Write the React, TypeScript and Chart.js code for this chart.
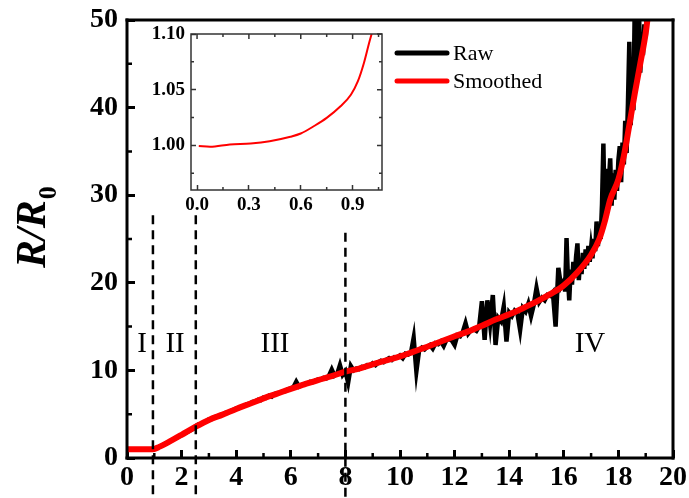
import React, { useEffect, useRef } from "react";
import { Chart, registerables } from "chart.js";

Chart.register(...registerables);

// ---------- data ----------
const smoothX = [0, 0.5, 0.95, 1.2, 1.6, 2.0, 2.5, 3.0, 3.5, 4.0, 4.5, 5.0, 5.5, 6.0, 6.5, 7.0, 7.5, 8.0, 8.5, 9.0, 9.5, 10.0, 10.5, 11.0, 11.5, 12.0, 12.5, 13.0, 13.5, 14.0, 14.5, 15.0, 15.5, 16.0, 16.5, 17.0, 17.3, 17.5, 17.7, 18.0, 18.2, 18.4, 18.6, 18.8, 19.0, 19.1];
const smoothY = [1.0, 1.0, 1.0, 1.3, 1.95, 2.65, 3.55, 4.35, 4.95, 5.6, 6.2, 6.8, 7.35, 7.9, 8.4, 8.9, 9.35, 9.85, 10.2, 10.7, 11.15, 11.6, 12.15, 12.7, 13.3, 13.9, 14.45, 15.1, 15.8, 16.4, 17.1, 17.85, 18.7, 19.7, 21.2, 23.2, 25.0, 27.0, 29.5, 31.8, 34.5, 38.0, 41.6, 45.0, 48.5, 51];

const rawHeadX = [0, 0.5, 0.95, 1.3, 1.7, 2.1, 2.4];
const rawHeadY = [1.0, 1.0, 1.0, 1.45, 2.1, 2.8, 3.3];

// raw, sampled every 0.1 from x = 2.5 to 15.9
const rawMidStartX = 2.5;
const rawMidStepX = 0.1;
const rawMidY = [
  3.6, 3.8, 3.85, 4.05, 4.2,
  4.4, 4.45, 4.65, 4.7, 4.9, 4.95, 5.15, 5.2, 5.35, 5.5,
  5.65, 5.7, 5.9, 5.95, 6.15, 6.2, 6.4, 6.45, 6.65, 6.6,
  6.9, 6.85, 7.1, 7.0, 7.3, 7.4, 7.45, 7.6, 7.65, 7.85,
  7.95, 8.1, 8.7, 8.15, 8.3, 8.45, 8.5, 8.7, 8.65, 8.85,
  8.95, 8.95, 9.15, 9.1, 9.4, 10.1, 9.4, 9.6, 10.6, 9.5,
  9.9, 8.6, 10.5, 10.0, 10.2, 10.15, 10.4, 10.35, 10.6, 10.55,
  10.8, 10.6, 10.9, 11.1, 10.95, 11.2, 11.4, 11.2, 11.5, 11.45,
  11.7, 11.4, 11.9, 11.8, 12.0, 13.7, 9.9, 12.3, 12.6, 12.4,
  12.7, 12.9, 12.5, 13.1, 13.0, 13.3, 12.8, 13.5, 13.6, 13.4,
  12.9, 14.0, 13.9, 14.4, 15.4, 14.2, 14.6, 14.7, 14.5, 15.0,
  17.9, 13.5, 18.0, 15.3, 18.6, 12.9, 16.0, 15.6, 17.3, 13.3,
  16.6, 16.2, 16.8, 16.5, 14.6, 17.1, 16.7, 17.6, 16.2, 17.5,
  19.4, 17.8, 18.3, 18.0, 18.6, 18.5, 18.9, 15.0, 21.7, 19.6,
];

// raw, sampled every 0.05 from x = 16.0 to 19.05
const rawTailStartX = 16.0;
const rawTailStepX = 0.05;
const rawTailY = [
  20.2, 19.0, 25.1, 20.5, 18.0, 21.5, 19.8, 22.4, 20.6, 23.0,
  24.5, 20.3, 22.6, 21.0, 23.4, 21.6, 23.8, 22.0, 24.2, 22.4,
  24.0, 22.8, 25.0, 23.6, 27.0, 24.2, 26.5, 25.0, 29.0, 35.9,
  26.8, 33.0, 28.0, 31.5, 34.2, 28.8, 32.5, 29.5, 32.9, 30.5,
  34.0, 35.6, 31.5, 36.0, 33.5, 38.5, 34.8, 40.5, 47.5, 38.0,
  42.0, 39.7, 52, 43.0, 46.5, 52, 44.0, 47.5, 46.0, 49.5,
  48.0, 51,
];

const boundaryX = [0.95, 2.52, 8.0];
const boundaryTop = [27.7, 27.7, 25.7];
const boundaryBottom = -4.6;

const regionLabels = ["I", "II", "III", "IV"];
const regionX = [0.55, 1.76, 5.42, 16.96];
const regionY = 13;

const mainMinorX = [1, 3, 5, 7, 9, 11, 13, 15, 17, 19];
const mainMinorY = [5, 15, 25, 35, 45];

const insetX = [0.01, 0.075, 0.19, 0.31, 0.42, 0.54, 0.6, 0.675, 0.75, 0.83, 0.89, 0.93, 0.965, 0.995, 1.01];
const insetY = [0.9994, 0.9988, 1.0009, 1.0018, 1.0038, 1.0078, 1.0107, 1.0172, 1.0247, 1.0351, 1.0455, 1.0574, 1.0738, 1.0917, 1.1];
const insetMinorX = [0.15, 0.45, 0.75, 1.05];
const insetMinorY = [0.975, 1.025, 1.075];

const legendItems = ["Raw", "Smoothed"];
const legendColors = ["#000000", "#ff0000"];

const SERIF = "'Liberation Serif', 'Times New Roman', serif";

// ---------- plugins ----------
const mainDecor = {
  id: "mainDecor",
  afterDraw(chart: any) {
    const { ctx, chartArea: a, scales } = chart;
    const xs = scales.x;
    const ys = scales.y;
    const L = a.left;
    const R = a.right;
    const T = a.top;
    const B = a.bottom;
    ctx.save();
    ctx.setLineDash([]);
    // frame
    ctx.fillStyle = "#000";
    ctx.fillRect(L - 1.5, T - 1.5, R - L + 3, 3);
    ctx.fillRect(L - 1.5, B - 1.5, R - L + 3, 3);
    ctx.fillRect(L - 1.5, T - 1.5, 3, B - T + 3);
    ctx.fillRect(R - 1.5, T - 1.5, 3, B - T + 3);
    // minor ticks
    ctx.strokeStyle = "#000";
    ctx.lineWidth = 2.5;
    ctx.beginPath();
    for (const v of mainMinorX) {
      const p = xs.getPixelForValue(v);
      ctx.moveTo(p, B);
      ctx.lineTo(p, B - 5);
    }
    for (const v of mainMinorY) {
      const p = ys.getPixelForValue(v);
      ctx.moveTo(L, p);
      ctx.lineTo(L + 5, p);
    }
    ctx.stroke();
    // region labels
    ctx.fillStyle = "#000";
    ctx.font = `29px ${SERIF}`;
    ctx.textAlign = "center";
    ctx.textBaseline = "middle";
    regionLabels.forEach((t, i) => {
      ctx.fillText(t, xs.getPixelForValue(regionX[i]), ys.getPixelForValue(regionY));
    });
    // legend
    ctx.textAlign = "left";
    ctx.font = `22px ${SERIF}`;
    legendItems.forEach((t, i) => {
      const y = a.top + 33 + i * 28;
      ctx.strokeStyle = legendColors[i];
      ctx.lineWidth = 5;
      ctx.lineCap = "round";
      ctx.beginPath();
      ctx.moveTo(a.left + 270, y);
      ctx.lineTo(a.left + 320, y);
      ctx.stroke();
      ctx.fillStyle = "#000";
      ctx.fillText(t, a.left + 326, y + 1);
    });
    // y title  R/R0
    ctx.save();
    ctx.translate(45, 268);
    ctx.rotate(-Math.PI / 2);
    ctx.textAlign = "left";
    ctx.textBaseline = "alphabetic";
    ctx.font = `italic bold 42px ${SERIF}`;
    ctx.fillText("R/R", 0, 0);
    const tw = ctx.measureText("R/R").width;
    ctx.font = `bold 26px ${SERIF}`;
    ctx.fillText("0", tw + 1, 11);
    ctx.restore();
    ctx.restore();
  },
};

const insetDecor = {
  id: "insetDecor",
  afterDraw(chart: any) {
    const { ctx, chartArea: a, scales } = chart;
    const xs = scales.x;
    const ys = scales.y;
    ctx.save();
    ctx.setLineDash([]);
    ctx.strokeStyle = "#333";
    ctx.lineWidth = 1.5;
    ctx.strokeRect(a.left, a.top, a.right - a.left, a.bottom - a.top);
    ctx.beginPath();
    for (const v of insetMinorX) {
      const p = xs.getPixelForValue(v);
      ctx.moveTo(p, a.bottom); ctx.lineTo(p, a.bottom - 3);
      ctx.moveTo(p, a.top); ctx.lineTo(p, a.top + 3);
    }
    for (const v of insetMinorY) {
      const p = ys.getPixelForValue(v);
      ctx.moveTo(a.left, p); ctx.lineTo(a.left + 3, p);
      ctx.moveTo(a.right, p); ctx.lineTo(a.right - 3, p);
    }
    for (const t of xs.ticks) {
      const p = xs.getPixelForValue(t.value);
      ctx.moveTo(p, a.top); ctx.lineTo(p, a.top + 5);
    }
    for (const t of ys.ticks) {
      const p = ys.getPixelForValue(t.value);
      ctx.moveTo(a.right, p); ctx.lineTo(a.right - 5, p);
    }
    ctx.stroke();
    ctx.restore();
  },
};

function fixSize(prop: "width" | "height", size: number) {
  return (s: any) => {
    s[prop] = size;
    s.paddingLeft = 0;
    s.paddingRight = 0;
    s.paddingTop = 0;
    s.paddingBottom = 0;
  };
}

export default function App() {
  const mainRef = useRef<HTMLCanvasElement>(null);
  const insetRef = useRef<HTMLCanvasElement>(null);

  useEffect(() => {
    const rawPoints = [
      ...rawHeadX.map((x, i) => ({ x, y: rawHeadY[i] })),
      ...rawMidY.map((y, i) => ({ x: rawMidStartX + i * rawMidStepX, y })),
      ...rawTailY.map((y, i) => ({ x: rawTailStartX + i * rawTailStepX, y })),
    ];
    const smoothPoints = smoothX.map((x, i) => ({ x, y: smoothY[i] }));
    const boundarySets = boundaryX.map((bx, i) => ({
      label: "boundary" + i,
      data: [
        { x: bx, y: boundaryTop[i] },
        { x: bx, y: boundaryBottom },
      ],
      borderColor: "#000",
      borderWidth: 2.5,
      borderDash: [9, 6],
      pointRadius: 0,
      clip: false as any,
      order: 0,
    }));

    const tickFont = { family: SERIF, weight: "bold" as any, size: 28 };

    const main = new Chart(mainRef.current!, {
      type: "line",
      data: {
        datasets: [
          ...boundarySets,
          {
            label: "Smoothed",
            data: smoothPoints,
            borderColor: "#ff0000",
            borderWidth: 6,
            pointRadius: 0,
            cubicInterpolationMode: "monotone",
            order: 1,
          },
          {
            label: "Raw",
            data: rawPoints,
            borderColor: "#000000",
            borderWidth: 4.5,
            pointRadius: 0,
            tension: 0,
            order: 2,
          },
        ] as any,
      },
      options: {
        responsive: false,
        animation: false,
        devicePixelRatio: 1,
        layout: { padding: { top: 20, right: 16, left: 0, bottom: 0 } },
        plugins: { legend: { display: false }, tooltip: { enabled: false } },
        scales: {
          x: {
            type: "linear",
            min: 0,
            max: 20,
            afterFit: fixSize("height", 40),
            border: { display: false },
            grid: { drawOnChartArea: false, drawTicks: true, tickLength: -8, tickWidth: 3, tickColor: "#000" },
            ticks: { stepSize: 2, color: "#000", font: tickFont, padding: 11, maxRotation: 0, autoSkip: false },
          },
          y: {
            type: "linear",
            min: 0,
            max: 50,
            afterFit: fixSize("width", 127),
            border: { display: false },
            grid: { drawOnChartArea: false, drawTicks: true, tickLength: -8, tickWidth: 3, tickColor: "#000" },
            ticks: { stepSize: 10, color: "#000", font: tickFont, padding: 17, autoSkip: false },
          },
        },
      },
      plugins: [mainDecor],
    });

    const insetFont = { family: SERIF, weight: "bold" as any, size: 19 };
    const inset = new Chart(insetRef.current!, {
      type: "line",
      data: {
        datasets: [
          {
            label: "inset",
            data: insetX.map((x, i) => ({ x, y: insetY[i] })),
            borderColor: "#ff0000",
            borderWidth: 2,
            pointRadius: 0,
            cubicInterpolationMode: "monotone",
          },
        ] as any,
      },
      options: {
        responsive: false,
        animation: false,
        devicePixelRatio: 1,
        layout: { padding: { top: 14, right: 8, left: 0, bottom: 0 } },
        plugins: { legend: { display: false }, tooltip: { enabled: false } },
        scales: {
          x: {
            type: "linear",
            min: -0.035,
            max: 1.07,
            afterFit: fixSize("height", 30),
            border: { display: false },
            grid: { drawOnChartArea: false, drawTicks: true, tickLength: -5, tickWidth: 1.5, tickColor: "#333" },
            ticks: {
              stepSize: 0.3,
              includeBounds: false,
              color: "#000",
              font: insetFont,
              padding: 9,
              maxRotation: 0,
              autoSkip: false,
              callback: (v: any) => Number(v).toFixed(1),
            },
          },
          y: {
            type: "linear",
            min: 0.96,
            max: 1.1,
            afterFit: fixSize("width", 51),
            border: { display: false },
            grid: { drawOnChartArea: false, drawTicks: true, tickLength: -5, tickWidth: 1.5, tickColor: "#333" },
            ticks: {
              stepSize: 0.05,
              includeBounds: false,
              color: "#000",
              font: insetFont,
              padding: 11,
              autoSkip: false,
              callback: (v: any) => Number(v).toFixed(2),
            },
          },
        },
      },
      plugins: [insetDecor],
    });

    return () => {
      main.destroy();
      inset.destroy();
    };
  }, []);

  return (
    <div style={{ position: "absolute", left: 0, top: 0, width: 689, height: 498, background: "#fff" }}>
      <canvas ref={mainRef} width={689} height={498} style={{ position: "absolute", left: 0, top: 0 }} />
      <canvas ref={insetRef} width={250} height={200} style={{ position: "absolute", left: 140, top: 20 }} />
    </div>
  );
}
